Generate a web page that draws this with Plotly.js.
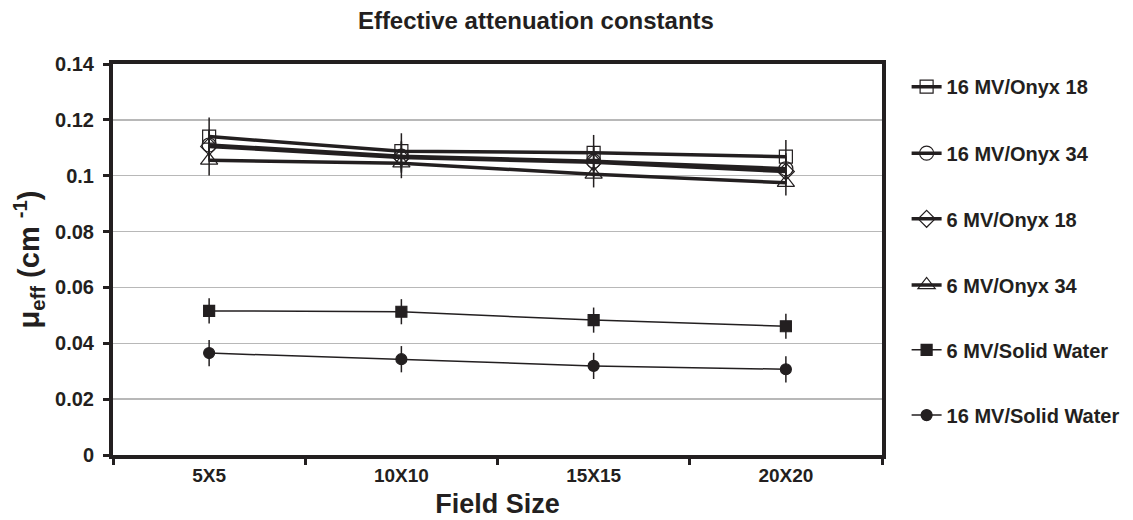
<!DOCTYPE html>
<html>
<head>
<meta charset="utf-8">
<script src="https://cdn.plot.ly/plotly-3.0.1.min.js"></script>
<style>html,body{margin:0;padding:0;background:#fff}#chart{width:1133px;height:520px}</style>
</head>
<body>
<div id="chart"></div>
<script>
const fieldSizes = ["5X5", "10X10", "15X15", "20X20"];

const mv16Onyx18 = [0.1140, 0.1088, 0.1082, 0.1068];
const mv16Onyx18Err = [0.0068, 0.0064, 0.0064, 0.0060];

const mv16Onyx34 = [0.1110, 0.1070, 0.1052, 0.1025];
const mv16Onyx34Err = [0.0055, 0.0055, 0.0055, 0.0055];

const mv6Onyx18 = [0.1105, 0.1065, 0.1048, 0.1015];
const mv6Onyx18Err = [0.0055, 0.0055, 0.0055, 0.0055];

const mv6Onyx34 = [0.1055, 0.1045, 0.1005, 0.0975];
const mv6Onyx34Err = [0.0054, 0.0054, 0.0047, 0.0046];

const mv6Water = [0.0516, 0.0513, 0.0483, 0.0461];
const mv6WaterErr = [0.0045, 0.0045, 0.0045, 0.0045];

const mv16Water = [0.0365, 0.0343, 0.0319, 0.0307];
const mv16WaterErr = [0.0047, 0.0047, 0.0047, 0.0047];

const seriesNames = ["16 MV/Onyx 18", "16 MV/Onyx 34", "6 MV/Onyx 18", "6 MV/Onyx 34", "6 MV/Solid Water", "16 MV/Solid Water"];

const FONT = "Liberation Sans, Arial, Helvetica, sans-serif";
const INK = "#231f20";

function tr(name, y, err, symbol, size, lw, leg) {
  return {
    type: "scatter", mode: "lines+markers", name: name,
    x: fieldSizes, y: y,
    error_y: {type: "data", array: err, visible: true, color: INK, thickness: 1.5, width: 0},
    line: {color: INK, width: lw},
    marker: {symbol: symbol, size: size, color: INK, line: {color: INK, width: 1.2}},
    legend: leg, showlegend: true
  };
}

const data = [
  tr(seriesNames[5], mv16Water, mv16WaterErr, "circle", 11, 1.5, "legend6"),
  tr(seriesNames[4], mv6Water, mv6WaterErr, "square", 11, 1.5, "legend5"),
  tr(seriesNames[3], mv6Onyx34, mv6Onyx34Err, "triangle-up-open", 15, 3.5, "legend4"),
  tr(seriesNames[2], mv6Onyx18, mv6Onyx18Err, "diamond-open", 13, 3.5, "legend3"),
  tr(seriesNames[1], mv16Onyx34, mv16Onyx34Err, "circle-open", 14, 3.5, "legend2"),
  tr(seriesNames[0], mv16Onyx18, mv16Onyx18Err, "square-open", 13, 3.5, "legend")
];

const legFont = {family: FONT, size: 20, color: INK, weight: "bold"};
function leg(y) {
  return {x: 1.032, xanchor: "left", y: y, yanchor: "middle", font: legFont, bgcolor: "rgba(0,0,0,0)", borderwidth: 0, itemwidth: 30, tracegroupgap: 0};
}

const layout = {
  width: 1133, height: 520,
  paper_bgcolor: "#fff", plot_bgcolor: "#fff",
  margin: {l: 113, r: 251, t: 64, b: 65, autoexpand: false},
  font: {family: FONT, color: INK},
  title: {text: "<b>Effective attenuation constants</b>", x: 0.473, xanchor: "center", y: 0.96, yanchor: "middle",
          font: {size: 24, family: FONT, color: INK}},
  xaxis: {
    type: "category", range: [-0.5, 3.5],
    showline: true, linecolor: INK, linewidth: 4, mirror: true,
    ticks: "outside", tickson: "boundaries", ticklen: 6, tickwidth: 3, tickcolor: INK,
    showgrid: false, zeroline: false,
    tickfont: {size: 19, weight: "bold"},
    title: {text: "<b>Field Size</b>", font: {size: 27}, standoff: 10}
  },
  yaxis: {
    range: [0, 0.14], dtick: 0.02, tickformat: "",
    showline: true, linecolor: INK, linewidth: 4, mirror: true,
    ticks: "outside", ticklen: 6, tickwidth: 3, tickcolor: INK, ticklabelstandoff: 5,
    showgrid: true, gridcolor: "#b8b8b8", gridwidth: 1.5, zeroline: false,
    tickfont: {size: 20, weight: "bold"},
    title: {text: "<b>μ<sub>eff</sub> (cm <sup>-1</sup>)</b>", font: {size: 29}, standoff: 8}
  },
  legend: leg(0.942), legend2: leg(0.772), legend3: leg(0.604),
  legend4: leg(0.435), legend5: leg(0.269), legend6: leg(0.102)
};

Plotly.newPlot("chart", data, layout, {displayModeBar: false, staticPlot: true});
</script>
</body>
</html>
